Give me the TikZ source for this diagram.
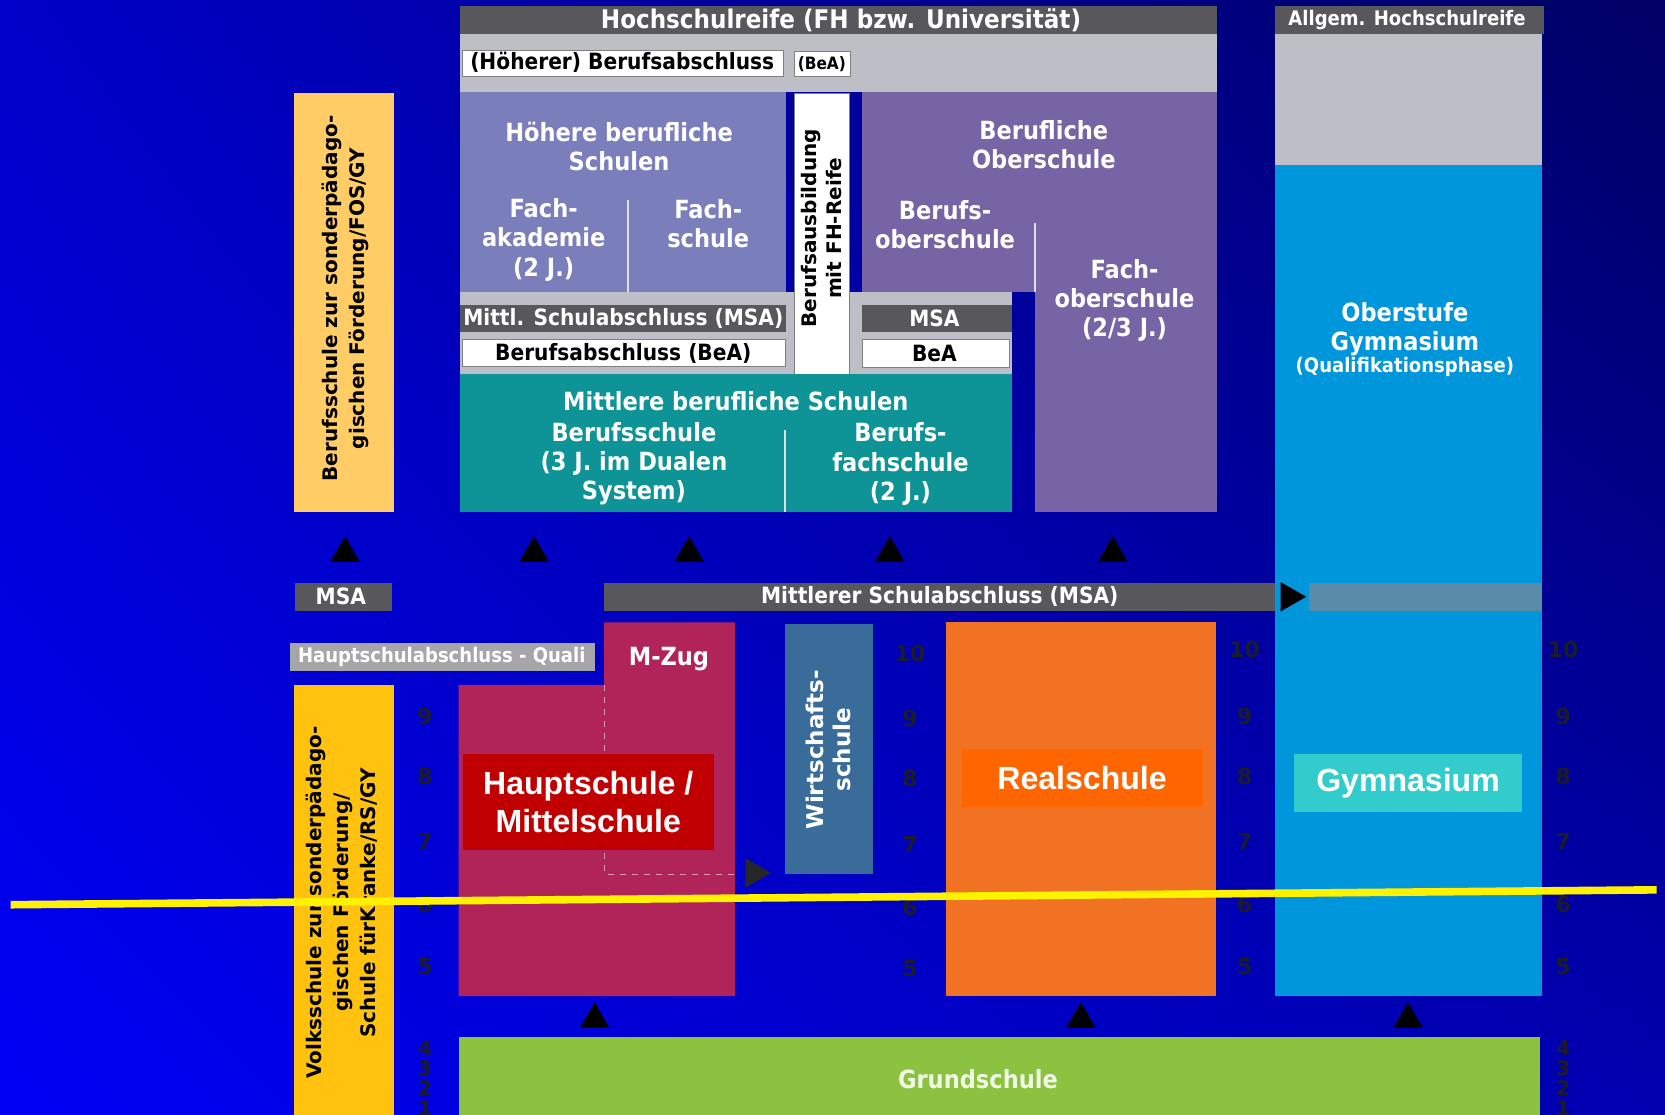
\documentclass[tikz,border=0pt]{standalone}
\usepackage{fontspec}
\setmainfont{DejaVu Sans}
\newfontfamily\condfont[FakeStretch=0.9]{DejaVu Sans}
\newfontfamily\arialfont{Liberation Sans}
\usetikzlibrary{shapes.geometric, shadings}

\definecolor{bgUL}{RGB}{0,0,200}
\definecolor{bgLL}{RGB}{0,0,245}
\definecolor{bgUR}{RGB}{0,0,100}
\definecolor{bgLR}{RGB}{0,0,175}
\definecolor{barGray}{RGB}{88,88,92}
\definecolor{paleGray}{RGB}{190,190,198}
\definecolor{qualiGray}{RGB}{166,166,170}
\definecolor{hbsBlue}{RGB}{122,126,186}
\definecolor{bosPurple}{RGB}{118,100,164}
\definecolor{mbsTeal}{RGB}{14,148,150}
\definecolor{fosYellow}{RGB}{255,204,102}
\definecolor{vsYellow}{RGB}{255,194,14}
\definecolor{mzCrimson}{RGB}{176,36,90}
\definecolor{hsRed}{RGB}{192,0,0}
\definecolor{wsBlue}{RGB}{58,108,154}
\definecolor{rsOrange}{RGB}{240,114,34}
\definecolor{rsLabel}{RGB}{255,102,0}
\definecolor{gymBlue}{RGB}{0,150,220}
\definecolor{gymLabel}{RGB}{51,204,204}
\definecolor{gsGreen}{RGB}{139,195,64}
\definecolor{bandBlue}{RGB}{90,140,170}
\definecolor{gradeDark}{RGB}{28,28,40}

\begin{document}
\begin{tikzpicture}
    [x=0.53pt, y=-0.53pt,
    block/.style={text=white, font=\condfont\bfseries\fontsize{12.5}{14.5}\selectfont, align=center, inner sep=0pt},
    bartext/.style={text=white, font=\condfont\bfseries\fontsize{11.2}{13}\selectfont, inner sep=0pt},
    boxtext/.style={bartext, text=black},
    sidetext/.style={text=black, font=\bfseries\fontsize{10}{13.4}\selectfont, align=center, inner sep=0pt, rotate=90},
    biglabel/.style={text=white, font=\arialfont\bfseries\fontsize{16}{19}\selectfont, align=center, inner sep=0pt},
    grade/.style={text=gradeDark, font=\bfseries\fontsize{11}{11}\selectfont, inner sep=0pt},
    smallgrade/.style={grade, font=\bfseries\fontsize{10}{10}\selectfont},
    uptri/.style={regular polygon, regular polygon sides=3, fill=black, minimum size=17pt, inner sep=0pt},
    righttri/.style={uptri, shape border rotate=-90},
    divider/.style={white!75!gray, line width=1pt}]

    \useasboundingbox (0,0) rectangle (1568,1050);
    \shade[upper left=bgUL, lower left=bgLL, upper right=bgUR, lower right=bgLR] (0,0) rectangle (1568,1050);

    % upper part: vocational schools
    \fill[barGray] (433,6) rectangle (1146,32);
    \node[bartext, font=\condfont\bfseries\fontsize{12.8}{14}\selectfont] (hsr) at (792,19) {Hochschulreife (FH bzw. Universität)};
    \fill[paleGray] (433,32) rectangle (1146,87);
    \fill[white, draw=gray] (435,47) rectangle (738,72);
    \node[boxtext] (hba) at (586,59) {(Höherer) Berufsabschluss};
    \fill[white, draw=gray] (748,48) rectangle (801,72);
    \node[boxtext, font=\condfont\bfseries\fontsize{8.5}{10}\selectfont] (hbea) at (774,60) {(BeA)};

    \fill[hbsBlue] (433,87) rectangle (740,275);
    \draw[divider] (591,188) -- (591,275);
    \node[block] (hbs) at (583,138) {Höhere berufliche\\Schulen};
    \node[block] (fak) at (512,226) {Fach-\\akademie\\(2 J.)};
    \node[block] (fs) at (667,211) {Fach-\\schule};

    \fill[paleGray] (433,275) rectangle (953,352);
    \fill[barGray] (433,287) rectangle (740,313);
    \node[bartext] (msa1) at (587,300) {Mittl. Schulabschluss (MSA)};
    \fill[white, draw=gray] (435,320) rectangle (740,345);
    \node[boxtext] (bea1) at (587,333) {Berufsabschluss (BeA)};
    \fill[barGray] (812,287) rectangle (953,313);
    \node[bartext] (msa2) at (880,300) {MSA};
    \fill[white, draw=gray] (812,320) rectangle (951,346);
    \node[boxtext] (bea2) at (880,333) {BeA};

    \fill[white, draw=gray] (748,88) rectangle (800,360);
    \node[sidetext, font=\bfseries\fontsize{10}{12.5}\selectfont] (fhr) at (774,215) {Berufsausbildung\\mit FH-Reife};

    \fill[bosPurple] (812,87) rectangle (1146,275);
    \fill[bosPurple] (975,275) rectangle (1146,482);
    \draw[divider] (975,210) -- (975,275);
    \node[block] (bos) at (983,136) {Berufliche\\Oberschule};
    \node[block] (bos2) at (890,212) {Berufs-\\oberschule};
    \node[block] (fos) at (1059,283) {Fach-\\oberschule\\(2/3 J.)};

    \fill[mbsTeal] (433,352) rectangle (953,482);
    \draw[divider] (739,405) -- (739,482);
    \node[block] (mbs) at (693,378) {Mittlere berufliche Schulen};
    \node[block] (bs) at (597,437) {Berufsschule\\(3 J. im Dualen\\System)};
    \node[block] (bfs) at (848,437) {Berufs-\\fachschule\\(2 J.)};

    \fill[fosYellow] (277,88) rectangle (371,482);
    \node[sidetext] (bsf) at (325,281) {Berufsschule zur sonderpädago-\\gischen Förderung/FOS/GY};

    % gymnasium column
    \fill[barGray] (1201,6) rectangle (1454,32);
    \node[bartext, font=\condfont\bfseries\fontsize{10}{12}\selectfont] (ahr) at (1325,19) {Allgem. Hochschulreife};
    \fill[paleGray] (1201,32) rectangle (1452,155);
    \fill[gymBlue] (1201,155) rectangle (1452,938);
    \node[block] (ogy) at (1323,310) {Oberstufe\\Gymnasium};
    \node[bartext, font=\condfont\bfseries\fontsize{10}{12}\selectfont] (qph) at (1323,346) {(Qualifikationsphase)};

    % arrows to the upper schools
    \node[uptri] (t1) at (325,521) {};
    \node[uptri] (t2) at (503,521) {};
    \node[uptri] (t3) at (649,521) {};
    \node[uptri] (t4) at (838,521) {};
    \node[uptri] (t5) at (1048,521) {};

    % leaving certificates
    \fill[barGray] (278,549) rectangle (369,575);
    \node[bartext] (msa0) at (321,562) {MSA};
    \fill[barGray] (569,549) rectangle (1201,575);
    \node[bartext] (msa) at (885,562) {Mittlerer Schulabschluss (MSA)};
    \fill[bandBlue] (1233,549) rectangle (1452,575);
    \node[righttri, fill=black] (t6) at (1214,562) {};
    \fill[qualiGray] (273,606) rectangle (560,632);
    \node[bartext, font=\condfont\bfseries\fontsize{10}{12}\selectfont] (quali) at (416,619) {Hauptschulabschluss - Quali};

    % lower part: secondary schools
    \fill[mzCrimson] (569,586) -- (692,586) -- (692,938) -- (432,938) -- (432,645) -- (569,645) -- cycle;
    \draw[white!55!mzCrimson, dashed] (569,645) -- (569,823) -- (692,823);
    \node[bartext, font=\condfont\bfseries\fontsize{12.5}{14}\selectfont] (mzug) at (630,621) {M-Zug};
    \fill[hsRed] (436,710) rectangle (672,800);
    \node[biglabel] (hs) at (554,755) {Hauptschule /\\Mittelschule};
    \node[righttri, fill=black!85] (t7) at (710,822) {};

    \fill[wsBlue] (739,588) rectangle (822,823);
    \node[sidetext, text=white, font=\bfseries\fontsize{11.5}{13.5}\selectfont] (ws) at (780,706) {Wirtschafts-\\schule};

    \fill[rsOrange] (891,586) rectangle (1145,938);
    \fill[rsLabel] (906,705) rectangle (1133,760);
    \node[biglabel] (rs) at (1019,733) {Realschule};

    \fill[gymLabel] (1219,710) rectangle (1433,765);
    \node[biglabel] (gy) at (1326,738) {Gymnasium};

    \fill[vsYellow] (277,645) rectangle (371,1050);
    \node[sidetext] (vs) at (322,850) {Volksschule zur sonderpädago-\\gischen Förderung/\\Schule fürKranke/RS/GY};

    % arrows from primary school
    \node[uptri] (t8) at (560,960) {};
    \node[uptri] (t9) at (1018,960) {};
    \node[uptri] (t10) at (1326,960) {};

    \fill[gsGreen] (432,977) rectangle (1450,1050);
    \node[block, text=white!88!gsGreen] (gs) at (921,1016) {Grundschule};

    % grade numbers
    \foreach \g/\y in {9/675, 8/731, 7/792, 6/852, 5/910}
        \node[grade] at (400,\y) {\g};
    \foreach \g/\y in {10/615, 9/677, 8/733, 7/795, 6/855, 5/912}
        \node[grade] at (857,\y) {\g};
    \foreach \g/\y in {10/612, 9/675, 8/731, 7/792, 6/852, 5/910}
        \node[grade] at (1172,\y) {\g};
    \foreach \g/\y in {10/612, 9/675, 8/731, 7/792, 6/852, 5/910}
        \node[grade] at (1472,\y) {\g};
    \foreach \x in {400, 1472}
        \foreach \g/\y in {4/987, 3/1006, 2/1025, 1/1044}
            \node[smallgrade] at (\x,\y) {\g};

    % yellow line across
    \coordinate (yl) at (10,852);
    \coordinate (yr) at (1560,838);
    \draw[yellow, line width=3.8pt] (yl) -- (yr);

\end{tikzpicture}
\end{document}
